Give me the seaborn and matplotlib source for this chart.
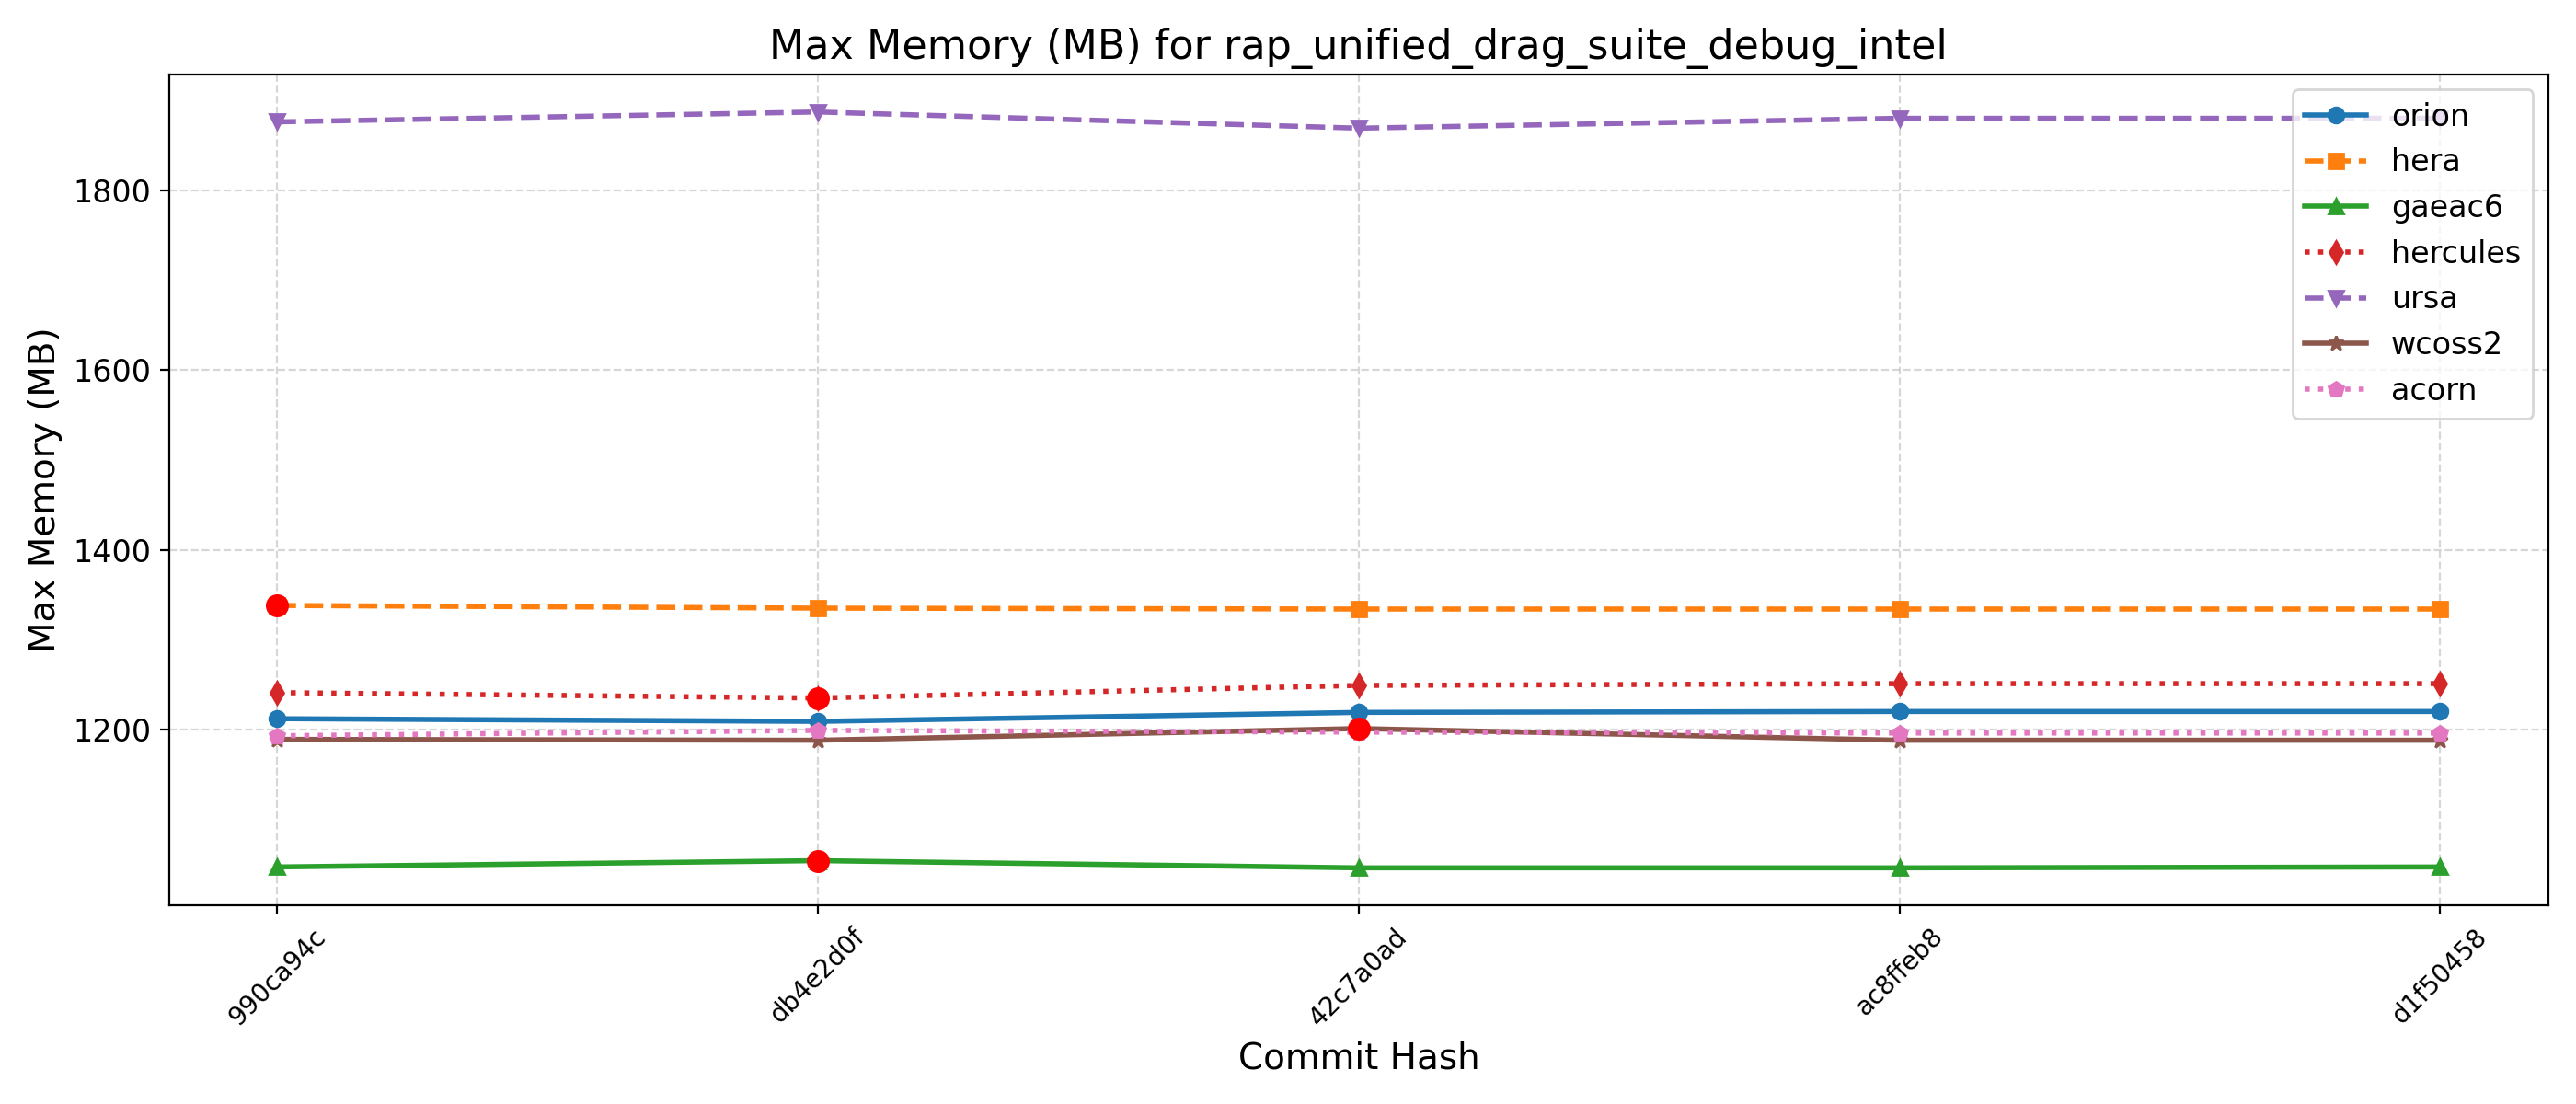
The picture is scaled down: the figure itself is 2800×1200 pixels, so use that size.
import pandas as pd
import matplotlib
matplotlib.use("Agg")
import matplotlib.pyplot as plt
import seaborn as sns

# data
commits = ["990ca94c", "db4e2d0f", "42c7a0ad", "ac8ffeb8", "d1f50458"]
machines = ["orion", "hera", "gaeac6", "hercules", "ursa", "wcoss2", "acorn"]

orion = [1212, 1209, 1219, 1220, 1220]
hera = [1338, 1335, 1334, 1334, 1334]
gaeac6 = [1047, 1054, 1046, 1046, 1047]
hercules = [1241, 1235, 1249, 1251, 1251]
ursa = [1876, 1887, 1869, 1880, 1880]
wcoss2 = [1189, 1188, 1201, 1188, 1188]
acorn = [1193, 1199, 1197, 1196, 1196]

# points flagged in red (machine -> commit)
flagged = {"hera": ["990ca94c"], "hercules": ["db4e2d0f"],
           "gaeac6": ["db4e2d0f"], "wcoss2": ["42c7a0ad"]}

values = {"orion": orion, "hera": hera, "gaeac6": gaeac6, "hercules": hercules,
          "ursa": ursa, "wcoss2": wcoss2, "acorn": acorn}
markers = {"orion": "o", "hera": "s", "gaeac6": "^", "hercules": "d",
           "ursa": "v", "wcoss2": "*", "acorn": "p"}
styles = {"orion": "-", "hera": "--", "gaeac6": "-", "hercules": ":",
          "ursa": "--", "wcoss2": "-", "acorn": ":"}
colors = sns.color_palette("tab10", 7)


def main():
    fig, ax = plt.subplots(figsize=(14, 6), dpi=200)

    for i, m in enumerate(machines):
        df = pd.DataFrame({"commit": commits, "mem": values[m]})
        sns.lineplot(data=df, x="commit", y="mem", ax=ax, color=colors[i],
                     marker=markers[m], linestyle=styles[m], linewidth=2,
                     markersize=6, markeredgewidth=1, markeredgecolor=colors[i],
                     label=m, sort=False)
        if m in flagged:
            red = df[df["commit"].isin(flagged[m])]
            sns.scatterplot(data=red, x="commit", y="mem", ax=ax, color="red",
                            s=64, edgecolor="red", linewidth=1, zorder=3, legend=False)

    ax.set_title("Max Memory (MB) for rap_unified_drag_suite_debug_intel", fontsize=16)
    ax.set_xlabel("Commit Hash", fontsize=14)
    ax.set_ylabel("Max Memory (MB)", fontsize=14)
    ax.tick_params(axis="y", labelsize=12)
    plt.setp(ax.get_xticklabels(), rotation=45, fontsize=10)
    ax.grid(True, linestyle="--", alpha=0.5)
    ax.legend(loc="upper right", fontsize=12)

    plt.tight_layout()
    plt.savefig("out.png", dpi=200)
    plt.close()


if __name__ == "__main__":
    main()
